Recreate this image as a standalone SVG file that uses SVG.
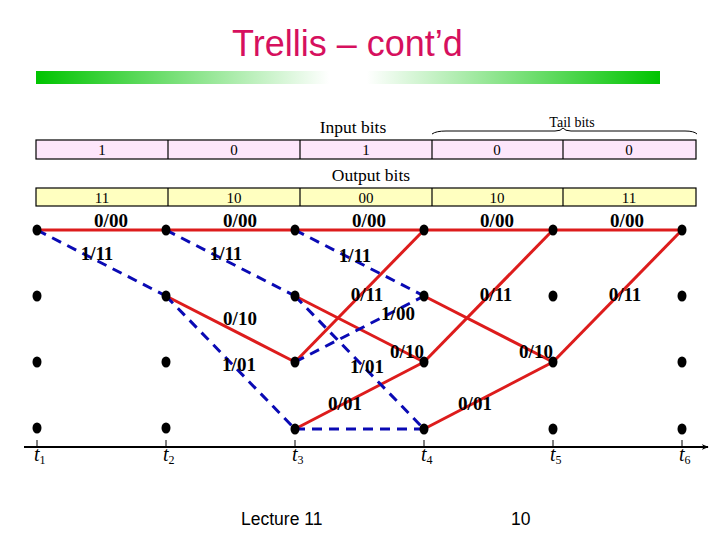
<svg xmlns="http://www.w3.org/2000/svg" width="720" height="540" viewBox="0 0 720 540">
<defs>
<linearGradient id="gbar" x1="0" y1="0" x2="1" y2="0">
<stop offset="0" stop-color="#00c400"/>
<stop offset="0.47" stop-color="#ffffff"/>
<stop offset="0.53" stop-color="#ffffff"/>
<stop offset="1" stop-color="#00c400"/>
</linearGradient>
<marker id="arr" viewBox="0 0 10 10" refX="9" refY="5" markerWidth="7" markerHeight="7" orient="auto" markerUnits="userSpaceOnUse">
<path d="M0,1 L10,5 L0,9 L3,5 Z" fill="#000"/>
</marker>
</defs>
<style>
.title{font-family:"Liberation Sans",Arial,sans-serif;font-size:36px;fill:#d6105e}
.foot{font-family:"Liberation Sans",Arial,sans-serif;font-size:17.5px;fill:#000}
.cell{font-family:"Liberation Serif","Times New Roman",serif;font-size:15px;fill:#000;text-anchor:middle}
.tail{font-family:"Liberation Serif","Times New Roman",serif;font-size:14px;fill:#000;text-anchor:middle}
.hdr{font-family:"Liberation Serif","Times New Roman",serif;font-size:17.5px;fill:#000;text-anchor:middle}
.lbl{font-family:"Liberation Serif","Times New Roman",serif;font-size:19px;font-weight:bold;fill:#000;text-anchor:middle}
.tl{font-family:"Liberation Serif","Times New Roman",serif;font-size:20px;font-style:italic;fill:#000}
.tsub{font-size:12px;font-style:normal}
.in{fill:#fde6fb;stroke:#000;stroke-width:1.2}
.out{fill:#ffffc0;stroke:#000;stroke-width:1.2}
.red{stroke:#dd1c1c;stroke-width:3;fill:none}
.blue{stroke:#0a0ab4;stroke-width:3;fill:none;stroke-dasharray:10 7}
.dot{fill:#000}
</style>

<g id="title">
<text class="title" x="232" y="56">Trellis – cont’d</text>
<rect x="36" y="71" width="624" height="13" fill="url(#gbar)"/>
</g>

<g id="input-bits">
<text class="hdr" x="353" y="133">Input bits</text>
<rect class="in" x="36" y="140" width="660" height="19"/>
<line x1="168" y1="140" x2="168" y2="159" stroke="#000" stroke-width="1.2"/>
<line x1="300" y1="140" x2="300" y2="159" stroke="#000" stroke-width="1.2"/>
<line x1="432" y1="140" x2="432" y2="159" stroke="#000" stroke-width="1.2"/>
<line x1="563" y1="140" x2="563" y2="159" stroke="#000" stroke-width="1.2"/>
<text class="cell" x="102" y="155">1</text>
<text class="cell" x="234" y="155">0</text>
<text class="cell" x="366" y="155">1</text>
<text class="cell" x="497" y="155">0</text>
<text class="cell" x="629" y="155">0</text>
</g>

<g id="tail-bits">
<text class="tail" x="572" y="127">Tail bits</text>
<path d="M432,134 Q436,131 446,131 L555,131 Q561,131 563,128 Q565,131 571,131 L685,131 Q694,131 697,134" fill="none" stroke="#000" stroke-width="1"/>
</g>

<g id="output-bits">
<text class="hdr" x="371" y="181">Output bits</text>
<rect class="out" x="36" y="188" width="660" height="18"/>
<line x1="168" y1="188" x2="168" y2="206" stroke="#000" stroke-width="1.2"/>
<line x1="300" y1="188" x2="300" y2="206" stroke="#000" stroke-width="1.2"/>
<line x1="432" y1="188" x2="432" y2="206" stroke="#000" stroke-width="1.2"/>
<line x1="563" y1="188" x2="563" y2="206" stroke="#000" stroke-width="1.2"/>
<text class="cell" x="102" y="203">11</text>
<text class="cell" x="234" y="203">10</text>
<text class="cell" x="366" y="203">00</text>
<text class="cell" x="497" y="203">10</text>
<text class="cell" x="629" y="203">11</text>
</g>

<g id="connectors">
<line class="red" x1="37" y1="230" x2="166" y2="230"/>
<line class="red" x1="166" y1="230" x2="295" y2="230"/>
<line class="red" x1="295" y1="230" x2="424" y2="230"/>
<line class="red" x1="424" y1="230" x2="553" y2="230"/>
<line class="red" x1="553" y1="230" x2="682" y2="230"/>
<line class="red" x1="166" y1="296" x2="295" y2="362"/>
<line class="red" x1="295" y1="296" x2="424" y2="362"/>
<line class="red" x1="295" y1="362" x2="424" y2="230"/>
<line class="red" x1="424" y1="296" x2="553" y2="362"/>
<line class="red" x1="424" y1="362" x2="553" y2="230"/>
<line class="red" x1="553" y1="362" x2="682" y2="230"/>
<line class="red" x1="295" y1="429" x2="424" y2="362"/>
<line class="red" x1="424" y1="429" x2="553" y2="362"/>
<line class="blue" x1="37" y1="230" x2="166" y2="296"/>
<line class="blue" x1="166" y1="230" x2="295" y2="296"/>
<line class="blue" x1="295" y1="230" x2="424" y2="296"/>
<line class="blue" x1="166" y1="296" x2="295" y2="429"/>
<line class="blue" x1="295" y1="296" x2="424" y2="429"/>
<line class="blue" x1="295" y1="362" x2="424" y2="296"/>
<line class="blue" x1="295" y1="429" x2="424" y2="429"/>
</g>

<g id="labels">
<text class="lbl" x="111" y="227">0/00</text>
<text class="lbl" x="240" y="227">0/00</text>
<text class="lbl" x="369" y="227">0/00</text>
<text class="lbl" x="497" y="227">0/00</text>
<text class="lbl" x="627" y="227">0/00</text>
<text class="lbl" x="97" y="260">1/11</text>
<text class="lbl" x="226" y="260">1/11</text>
<text class="lbl" x="355" y="262">1/11</text>
<text class="lbl" x="367" y="301">0/11</text>
<text class="lbl" x="496" y="301">0/11</text>
<text class="lbl" x="625" y="301">0/11</text>
<text class="lbl" x="398" y="320">1/00</text>
<text class="lbl" x="240" y="325">0/10</text>
<text class="lbl" x="407" y="358">0/10</text>
<text class="lbl" x="536" y="358">0/10</text>
<text class="lbl" x="239" y="371">1/01</text>
<text class="lbl" x="367" y="373">1/01</text>
<text class="lbl" x="345" y="410">0/01</text>
<text class="lbl" x="475" y="410">0/01</text>
</g>

<g id="nodes">
<g id="c1"><ellipse class="dot" cx="37" cy="230" rx="4.5" ry="5.5"/><ellipse class="dot" cx="37" cy="296" rx="4.5" ry="5.5"/><ellipse class="dot" cx="37" cy="362" rx="4.5" ry="5.5"/><ellipse class="dot" cx="37" cy="428" rx="4.5" ry="5.5"/></g>
<g id="c2"><ellipse class="dot" cx="166" cy="230" rx="4.5" ry="5.5"/><ellipse class="dot" cx="166" cy="296" rx="4.5" ry="5.5"/><ellipse class="dot" cx="166" cy="362" rx="4.5" ry="5.5"/><ellipse class="dot" cx="166" cy="428" rx="4.5" ry="5.5"/></g>
<g id="c3"><ellipse class="dot" cx="295" cy="230" rx="4.5" ry="5.5"/><ellipse class="dot" cx="295" cy="296" rx="4.5" ry="5.5"/><ellipse class="dot" cx="295" cy="362" rx="4.5" ry="5.5"/><ellipse class="dot" cx="295" cy="429" rx="4.5" ry="5.5"/></g>
<g id="c4"><ellipse class="dot" cx="424" cy="230" rx="4.5" ry="5.5"/><ellipse class="dot" cx="424" cy="296" rx="4.5" ry="5.5"/><ellipse class="dot" cx="424" cy="362" rx="4.5" ry="5.5"/><ellipse class="dot" cx="424" cy="429" rx="4.5" ry="5.5"/></g>
<g id="c5"><ellipse class="dot" cx="553" cy="230" rx="4.5" ry="5.5"/><ellipse class="dot" cx="553" cy="296" rx="4.5" ry="5.5"/><ellipse class="dot" cx="553" cy="362" rx="4.5" ry="5.5"/><ellipse class="dot" cx="553" cy="429" rx="4.5" ry="5.5"/></g>
<g id="c6"><ellipse class="dot" cx="682" cy="230" rx="4.5" ry="5.5"/><ellipse class="dot" cx="682" cy="296" rx="4.5" ry="5.5"/><ellipse class="dot" cx="682" cy="362" rx="4.5" ry="5.5"/><ellipse class="dot" cx="682" cy="429" rx="4.5" ry="5.5"/></g>
</g>

<g id="time-axis">
<line x1="24" y1="447" x2="708" y2="447" stroke="#000" stroke-width="2" marker-end="url(#arr)"/>
<g stroke="#000" stroke-width="1">
<line x1="37" y1="440" x2="37" y2="447"/><line x1="166" y1="440" x2="166" y2="447"/><line x1="295" y1="440" x2="295" y2="447"/>
<line x1="424" y1="440" x2="424" y2="447"/><line x1="553" y1="440" x2="553" y2="447"/><line x1="682" y1="440" x2="682" y2="447"/>
</g>
<text class="tl" x="34" y="461">t<tspan class="tsub" dy="3">1</tspan></text>
<text class="tl" x="163" y="461">t<tspan class="tsub" dy="3">2</tspan></text>
<text class="tl" x="292" y="461">t<tspan class="tsub" dy="3">3</tspan></text>
<text class="tl" x="421" y="461">t<tspan class="tsub" dy="3">4</tspan></text>
<text class="tl" x="550" y="461">t<tspan class="tsub" dy="3">5</tspan></text>
<text class="tl" x="679" y="461">t<tspan class="tsub" dy="3">6</tspan></text>
</g>

<g id="footer">
<text class="foot" x="241" y="525">Lecture 11</text>
<text class="foot" x="511" y="525">10</text>
</g>
</svg>
